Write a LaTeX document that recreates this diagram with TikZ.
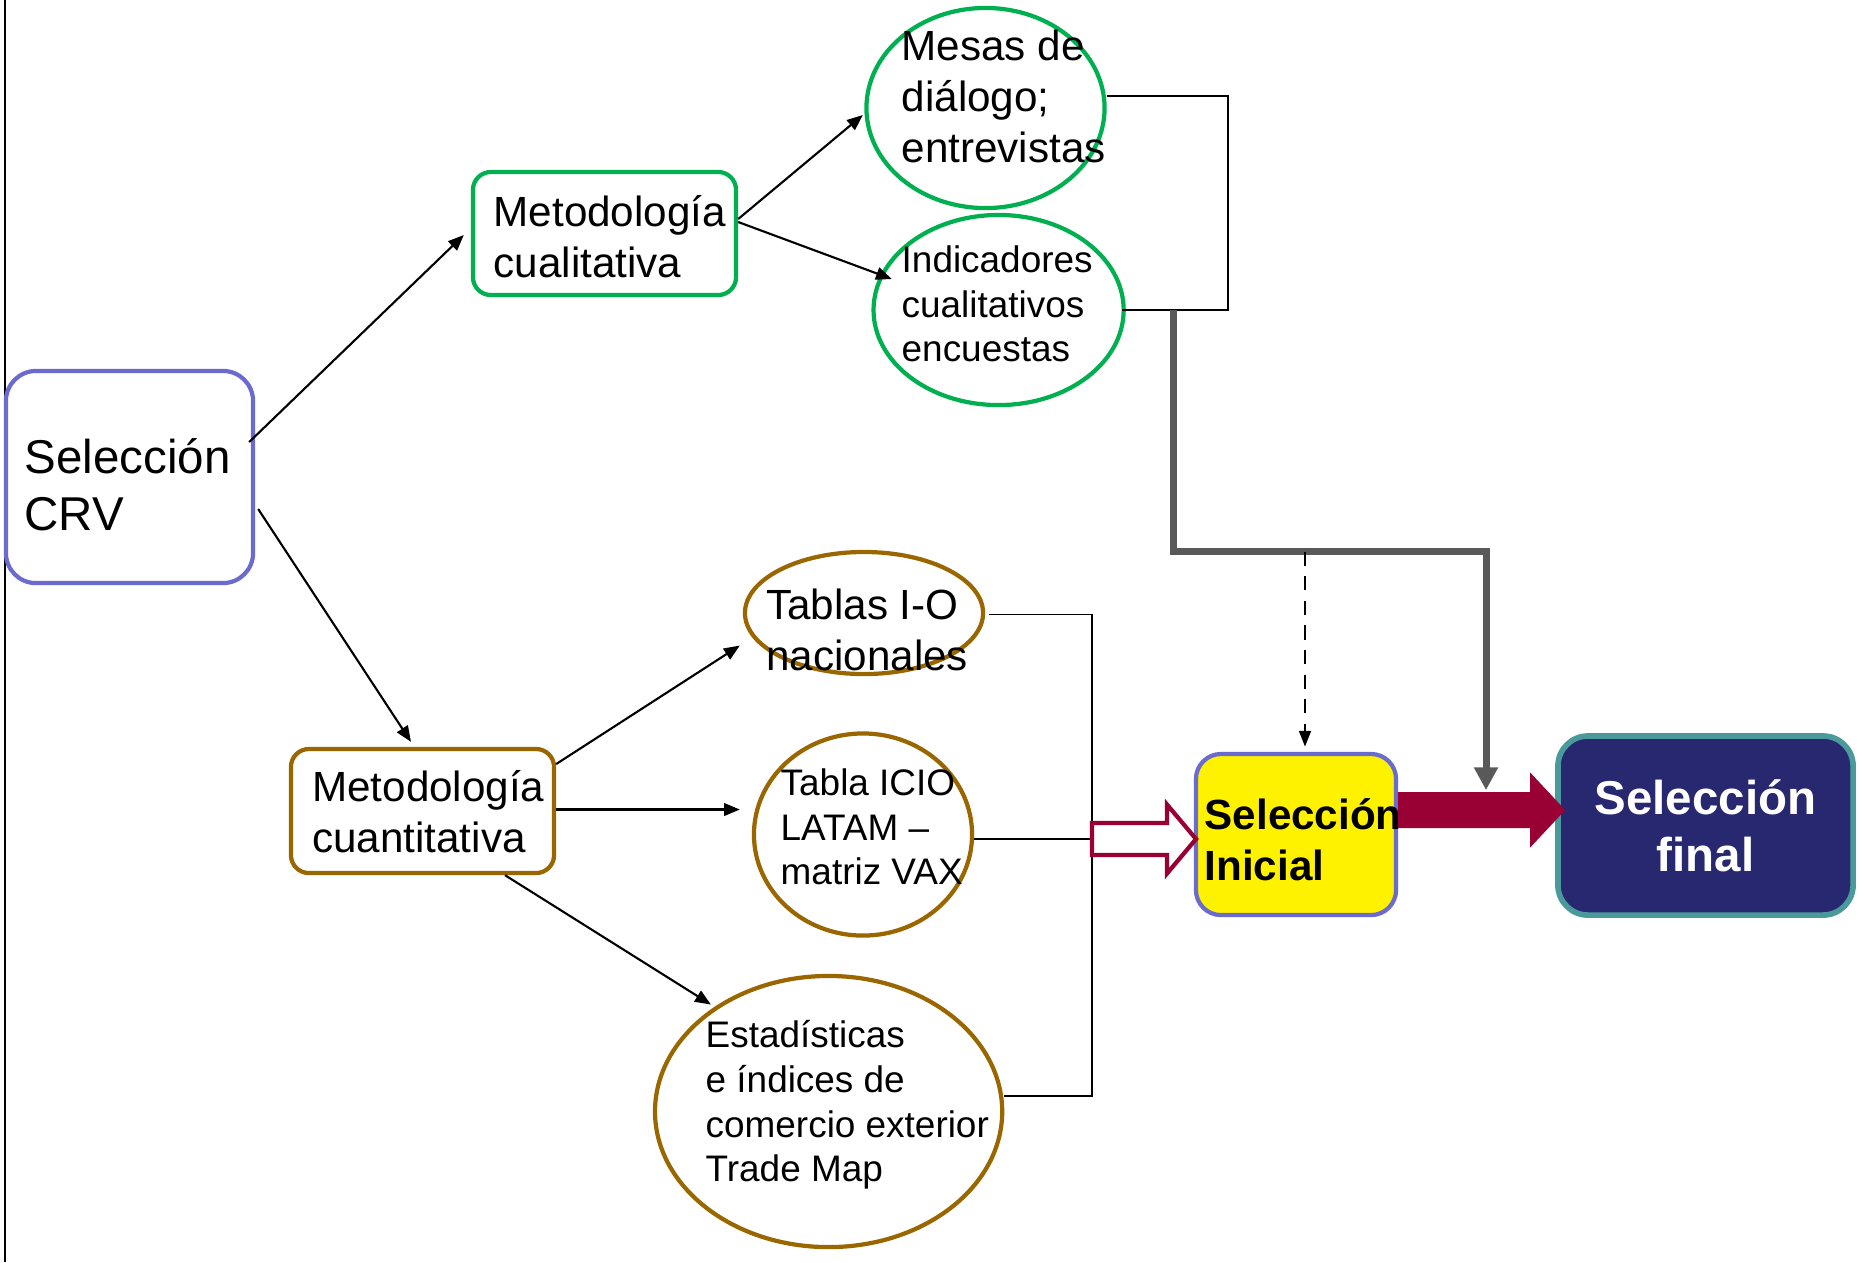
\documentclass[tikz,border=0pt]{standalone}
\usepackage{fontspec}
\setmainfont{Liberation Sans}
\usepackage{xcolor}
\usepackage{tikz}
\usetikzlibrary{shapes,arrows.meta,positioning,calc}

\definecolor{lila}{RGB}{107,107,207}
\definecolor{verde}{RGB}{0,176,80}
\definecolor{cafe}{RGB}{153,102,0}
\definecolor{marino}{RGB}{40,40,112}
\definecolor{turquesa}{RGB}{74,154,156}
\definecolor{vino}{RGB}{153,0,51}
\definecolor{gris}{RGB}{89,89,89}

\begin{document}
\begin{tikzpicture}[x=0.01cm, y=-0.01cm,
    grande/.style={font=\fontsize{13.5}{16.2}\selectfont},
    medio/.style={font=\fontsize{12}{14.5}\selectfont},
    chico/.style={font=\fontsize{10.5}{12.7}\selectfont},
    caja/.style={rectangle, draw, line width=1.2pt, align=left},
    elipse/.style={ellipse, draw, line width=1.2pt, inner sep=0pt},
    texto/.style={inner sep=0pt, anchor=west, align=left},
    flecha/.style={line width=0.6pt, -{Triangle[length=4.5pt,width=3.6pt]}},
    fina/.style={line width=0.5pt}]

    \useasboundingbox (0,0) rectangle (1864,1262);
    \draw[fina] (5,0) -- (5,1262);

    \node (crv) [caja, draw=lila, rounded corners=0.3cm, minimum width=2.47cm, minimum height=2.12cm] at (129.5,477) {};
    \node (crvT) [texto, grande] at (24,485) {Selección\\CRV};
    \node (metcual) [caja, draw=verde, rounded corners=0.18cm, minimum width=2.63cm, minimum height=1.23cm] at (604.5,233.5) {};
    \node (metcualT) [texto, medio] at (493,237) {Metodología\\cualitativa};
    \node (metcuant) [caja, draw=cafe, rounded corners=0.18cm, minimum width=2.63cm, minimum height=1.24cm] at (422.5,811) {};
    \node (metcuantT) [texto, medio] at (311.5,812) {Metodología\\cuantitativa};

    \node (mesas) [elipse, draw=verde, minimum width=2.38cm, minimum height=2cm] at (985.5,108) {};
    \node (indic) [elipse, draw=verde, minimum width=2.5cm, minimum height=1.9cm] at (998.6,310) {};
    \node (tablas) [elipse, draw=cafe, minimum width=2.38cm, minimum height=1.22cm] at (864,613) {};
    \node (icio) [elipse, draw=cafe, minimum width=2.18cm, minimum height=2.02cm] at (863,834.5) {};
    \node (estad) [elipse, draw=cafe, minimum width=3.47cm, minimum height=2.71cm] at (828.6,1111.5) {};

    \node (mesasT) [texto, medio] at (901,96) {Mesas de\\diálogo;\\entrevistas};
    \node (indicT) [texto, chico] at (901,304) {Indicadores\\cualitativos\\encuestas};
    \node (tablasT) [texto, medio] at (765.5,630) {Tablas I-O\\nacionales};
    \node (icioT) [texto, chico] at (780,827) {Tabla ICIO\\LATAM --\\matriz VAX};
    \node (estadT) [texto, chico] at (705,1105) {Estadísticas\\e índices de\\comercio exterior\\Trade Map};

    \node (selini) [caja, draw=lila, fill=yellow, rounded corners=0.25cm, minimum width=2cm, minimum height=1.61cm] at (1296,834.5) {};
    \node (seliniT) [texto, font=\fontsize{12}{14.5}\selectfont\bfseries] at (1204,840) {Selección\\Inicial};
    \node (selfin) [caja, font=\fontsize{13.5}{16.2}\selectfont\bfseries, align=center, text=white, draw=turquesa, fill=marino, line width=1.6pt, rounded corners=0.3cm, minimum width=2.95cm, minimum height=1.79cm] at (1705.5,825.5) {Selección\\final};

    \draw [flecha] ($(crv.east)+(-6,-35)$) -- ($(metcual.west)+(-7,1.5)$);
    \draw [flecha] ($(crv.east)+(3,32)$) -- ($(metcuant.north)+(-11.5,-5)$);
    \draw [flecha] ($(metcual.east)+(0,-14.5)$) -- ($(mesas.west)+(-1.5,7)$);
    \draw [flecha] ($(metcual.east)+(0,-11.5)$) -- ($(indic.west)+(20.4,-31)$);
    \draw [flecha] ($(metcuant.east)+(0,-47)$) -- ($(tablas.west)+(-3,32.5)$);
    \draw [flecha] ($(metcuant.east)+(0,-1.5)$) -- ($(icio.west)+(-12,-25)$);
    \draw [flecha] ($(metcuant.south)+(82.5,0)$) -- ($(estad.west)+(58,-107)$);

    \coordinate (brqA) at (1228,310);
    \coordinate (brqB) at (1092,839);
    \coordinate (bajada) at (1486,551.6);
    \coordinate (guia) at (1305,551.6);

    \draw [fina] ($(mesas.east)+(0,-12)$) -| (brqA) -- ($(indic.east)+(-3.6,0)$);
    \draw [fina] ($(tablas.east)+(4,1.5)$) -| (brqB) |- ($(estad.east)+(0,-15.5)$);
    \draw [fina] ($(icio.east)+(0,4.5)$) -- (brqB);

    \draw [vino, line width=1.2pt, fill=white] (brqB) ++(0,-16) -- ++(75,0) -- ++(0,-18.5) -- ++(29,34.5) -- ++(-29,34.5) -- ++(0,-18.5) -- ++(-75,0) -- cycle;
    \fill [vino] (selini.east |- 0,810) ++(0,-18) -- ++(132,0) -- ++(0,-19.5) -- ++(35,37.5) -- ++(-35,37.5) -- ++(0,-19.5) -- ++(-132,0) -- cycle;

    \draw [gris, line width=2pt, -{Triangle[length=6.5pt,width=6.5pt]}] (indic.east -| 1173,0) |- (bajada) -- ++(0,238.5);
    \draw [line width=0.6pt, dash pattern=on 4pt off 3pt, -{Triangle[length=4.5pt,width=3.4pt]}] (guia) -- ++(0,195);
\end{tikzpicture}
\end{document}
